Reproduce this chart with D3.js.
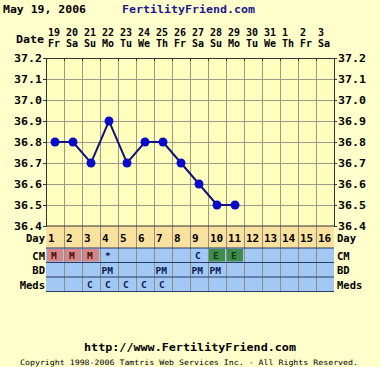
<!DOCTYPE html>
<html><head><meta charset="utf-8">
<script src="https://cdn.jsdelivr.net/npm/d3@7"></script>
<style>
html,body{margin:0;padding:0;background:#FFFFCC;}
svg{display:block;}
text{font-family:"DejaVu Sans Mono",monospace;fill:#000;}
</style></head>
<body><div id="chart"></div>
<script>
const title = "May 19, 2006";
const siteName = "FertilityFriend.com";
const cycleDays = [1,2,3,4,5,6,7,8,9,10,11,12,13,14,15,16];
const dateLabels = ["19","20","21","22","23","24","25","26","27","28","29","30","31","1","2","3"];
const weekdays = ["Fr","Sa","Su","Mo","Tu","We","Th","Fr","Sa","Su","Mo","Tu","We","Th","Fr","Sa"];
const temps = [36.8,36.8,36.7,36.9,36.7,36.8,36.8,36.7,36.6,36.5,36.5];
const yTicks = [36.4,36.5,36.6,36.7,36.8,36.9,37.0,37.1,37.2];
const cm = ["M","M","M","*","","","","","C","E","E","","","","",""];
const bd = ["","","","PM","","","PM","","PM","PM","","","","","",""];
const meds = ["","","C","C","C","C","C","","","","","","","","",""];
const footerUrl = "http://www.FertilityFriend.com";
const copyright = "Copyright 1998-2006 Tamtris Web Services Inc. - All Rights Reserved.";

const W = 380, H = 367;
const L = 46, R = 334, T = 58, B = 226;
const FS = 10.5;
const svg = d3.select("#chart").append("svg").attr("width", W).attr("height", H);
svg.append("rect").attr("width", W).attr("height", H).attr("fill", "#FFFFCC");

const x = d3.scaleBand().domain(cycleDays).range([L, R]);
const y = d3.scaleLinear().domain([36.4, 37.2]).range([B, T]);
const cx = d => x(d) + x.bandwidth() / 2;

function bold(sel, size) {
  return sel.attr("font-size", size || FS).style("font-weight", "bold");
}

// header
bold(svg.append("text").attr("x", 3).attr("y", 13)).attr("textLength", 83).attr("lengthAdjust", "spacingAndGlyphs").text(title);
bold(svg.append("text").attr("x", 122).attr("y", 13)).attr("textLength", 133).attr("lengthAdjust", "spacingAndGlyphs")
  .style("fill", "#1A1A8C").text(siteName);
bold(svg.append("text").attr("x", 16).attr("y", 42.5)).attr("textLength", 28).attr("lengthAdjust", "spacingAndGlyphs").text("Date");
bold(svg.selectAll(".dnum").data(cycleDays).join("text")
  .attr("x", d => x(d) + 2).attr("y", 36), 10).text((d, i) => dateLabels[i]);
bold(svg.selectAll(".wday").data(cycleDays).join("text")
  .attr("x", d => x(d) + 2).attr("y", 47), 10).text((d, i) => weekdays[i]);

// plot bg
svg.append("rect").attr("x", L).attr("y", T).attr("width", R - L).attr("height", B - T).attr("fill", "#FFFFBE");

// grid
const grid = svg.append("g").attr("stroke", "#9A9A86").attr("stroke-width", 1);
grid.selectAll(".vg").data(cycleDays.slice(1)).join("line")
  .attr("x1", d => x(d) + 0.5).attr("x2", d => x(d) + 0.5).attr("y1", T).attr("y2", 291);
grid.selectAll(".hg").data(yTicks.slice(1, -1)).join("line")
  .attr("x1", L).attr("x2", R).attr("y1", d => Math.round(y(d)) + 0.5).attr("y2", d => Math.round(y(d)) + 0.5);

// bottom rows
const rowDayTop = 226, rowCmTop = 248, rowBdTop = 262.5, rowMedsTop = 277, rowEnd = 291.5;
svg.append("rect").attr("x", L).attr("y", rowDayTop).attr("width", R - L).attr("height", rowCmTop - rowDayTop).attr("fill", "#FBE19E");
svg.append("rect").attr("x", L).attr("y", rowCmTop).attr("width", R - L).attr("height", rowEnd - rowCmTop).attr("fill", "#A2C8F4");

const cellColor = v => v === "M" ? "#D88585" : v === "E" ? "#3F8D4B" : null;
svg.selectAll(".cmcell").data(cycleDays.filter((d, i) => cellColor(cm[i]))).join("rect")
  .attr("x", d => x(d) + 1).attr("y", rowCmTop + 1).attr("width", x.bandwidth() - 2).attr("height", rowBdTop - rowCmTop - 2)
  .attr("fill", d => cellColor(cm[d - 1]));

const grid2 = svg.append("g").attr("stroke", "#8E8E86");
grid2.selectAll("line").data(cycleDays.slice(1)).join("line")
  .attr("x1", d => x(d) + 0.5).attr("x2", d => x(d) + 0.5).attr("y1", rowDayTop).attr("y2", rowEnd);

svg.selectAll(".rsep").data([rowCmTop, rowBdTop, rowMedsTop, rowEnd]).join("line")
  .attr("x1", L).attr("x2", R).attr("y1", d => d).attr("y2", d => d).attr("stroke", "#2A3A6A").attr("stroke-width", 1);

// day numbers
bold(svg.selectAll(".daynum").data(cycleDays).join("text")
  .attr("x", d => x(d) + 2).attr("y", 242), 11).text(d => d);

function rowText(arr, baseline, colorFn) {
  bold(svg.append("g").selectAll("text").data(cycleDays.filter((d, i) => arr[i])).join("text")
    .attr("x", d => x(d) + (arr[d - 1].length > 1 ? 1.5 : 5)).attr("y", baseline), 9.5)
    .style("fill", d => colorFn(arr[d - 1])).text(d => arr[d - 1]);
}
rowText(cm, 259, v => v === "M" ? "#3A1010" : v === "E" ? "#103A18" : "#0A1A55");
rowText(bd, 273.5, () => "#0A1A55");
rowText(meds, 288, () => "#0A1A55");

// row labels
const rowLabels = [["Day", 242], ["CM", 259.5], ["BD", 274], ["Meds", 288.5]];
bold(svg.selectAll(".rll").data(rowLabels).join("text")
  .attr("x", 45).attr("y", d => d[1]).attr("text-anchor", "end")).text(d => d[0]);
bold(svg.selectAll(".rlr").data(rowLabels).join("text")
  .attr("x", 337).attr("y", d => d[1])).text(d => d[0]);

// axes
const fmt = d3.format(".1f");
const axL = svg.append("g").attr("transform", `translate(${L},0)`)
  .call(d3.axisLeft(y).tickValues(yTicks).tickFormat(fmt).tickSize(3).tickPadding(1));
const axR = svg.append("g").attr("transform", `translate(${R},0)`)
  .call(d3.axisRight(y).tickValues(yTicks).tickFormat(fmt).tickSize(3).tickPadding(1));
[axL, axR].forEach(a => {
  a.select(".domain").attr("stroke", "#333");
  a.selectAll("text").attr("font-size", 11).attr("font-family", "DejaVu Sans Mono")
    .style("font-weight", "bold").style("fill", "#000").attr("textLength", 28).attr("lengthAdjust", "spacingAndGlyphs");
  a.selectAll(".tick line").attr("stroke", "#333");
});
const axT = svg.append("g").attr("transform", `translate(0,${T})`)
  .call(d3.axisTop(x).tickValues([]).tickSize(0));
axT.select(".domain").attr("stroke", "#333");
svg.selectAll(".tt").data(cycleDays).join("line")
  .attr("x1", d => x(d) + 0.5).attr("x2", d => x(d) + 0.5).attr("y1", T).attr("y2", T + 3).attr("stroke", "#333");
svg.append("line").attr("x1", L).attr("x2", R).attr("y1", B).attr("y2", B).attr("stroke", "#333");

// temp line
svg.append("path").datum(temps)
  .attr("d", d3.line().x((d, i) => cx(cycleDays[i])).y(d => y(d)))
  .attr("fill", "none").attr("stroke", "#12127A").attr("stroke-width", 2);
svg.selectAll(".pt").data(temps).join("circle")
  .attr("cx", (d, i) => cx(cycleDays[i])).attr("cy", d => y(d)).attr("r", 4.5).attr("fill", "#0A0ACC");

// footer
bold(svg.append("text").attr("x", 190).attr("y", 351).attr("text-anchor", "middle"), 11)
  .attr("textLength", 212).attr("lengthAdjust", "spacingAndGlyphs").text(footerUrl);
svg.append("text").attr("x", 189).attr("y", 365).attr("text-anchor", "middle").attr("font-size", 7.4)
  .style("font-weight", "normal").attr("textLength", 338).attr("lengthAdjust", "spacingAndGlyphs").text(copyright);
</script></body></html>
